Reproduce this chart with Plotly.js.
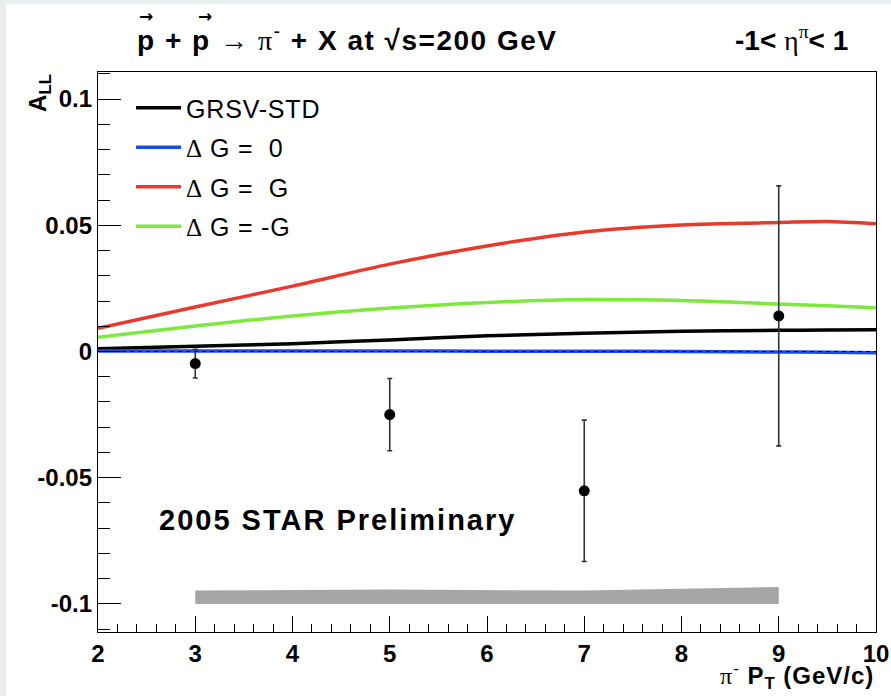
<!DOCTYPE html>
<html>
<head>
<meta charset="utf-8">
<script src="https://cdn.plot.ly/plotly-3.0.1.min.js"></script>
<style>
  html, body { margin: 0; padding: 0; background: #e8edf0; }
  #sheet { position: absolute; left: 6px; top: 4px; width: 885px; height: 692px; background: #ffffff; }
  #plot { position: absolute; left: 0; top: 0; width: 891px; height: 696px; }
</style>
</head>
<body>
<div id="sheet"></div>
<div id="plot"></div>
<script>
// Measured pi- double-helicity asymmetry (STAR 2005)
const ptBins   = [3, 5, 7, 9];
const allValue = [-0.0048, -0.0250, -0.0552, 0.0141];
const allError = [0.0057, 0.0143, 0.0280, 0.0515];

// Systematic uncertainty band, drawn along the bottom of the frame
const sysLow  = [-0.1000, -0.1000, -0.1000, -0.1000];
const sysHigh = [-0.0947, -0.0943, -0.0947, -0.0933];

// NLO predictions for different gluon polarisation scenarios
const curvePt  = [2, 3, 4, 5, 6, 7, 8, 9, 9.5, 10];
const grsvStd  = [0.0011, 0.0021, 0.0031, 0.0046, 0.0062, 0.0072, 0.0080, 0.0084, 0.0085, 0.0086];
const dgZero   = [0.0002, 0.0002, 0.0002, 0.0002, 0.0001, 0.0001, 0.0000, -0.0002, -0.0003, -0.0005];
const dgMax    = [0.0092, 0.0176, 0.0259, 0.0346, 0.0418, 0.0473, 0.0501, 0.0511, 0.0515, 0.0506];
const dgMin    = [0.0056, 0.0101, 0.0141, 0.0172, 0.0194, 0.0206, 0.0202, 0.0188, 0.0181, 0.0173];

const xTickVals = [2, 3, 4, 5, 6, 7, 8, 9, 10];
const yTickVals = [-0.1, -0.05, 0, 0.05, 0.1];
const yTickText = ['-0.1', '-0.05', '0', '0.05', '0.1'];

const SANS = 'Liberation Sans, Arial, Helvetica, sans-serif';
const SERIF = 'Liberation Serif, Times New Roman, serif';
const sym = s => `<span style="font-family:${SERIF};font-weight:normal">${s}</span>`;
const spaced = s => `<span style="letter-spacing:0.8px">${s}</span>`;

const traces = [
  {
    x: ptBins.concat(ptBins.slice().reverse()),
    y: sysLow.concat(sysHigh.slice().reverse()),
    type: 'scatter', mode: 'lines', fill: 'toself',
    fillcolor: '#a6a6a6', line: { width: 0, color: '#a6a6a6' },
    showlegend: false, hoverinfo: 'skip'
  },
  {
    x: curvePt, y: grsvStd, type: 'scatter', mode: 'lines', name: spaced('GRSV-STD'),
    legendgroup: 'a', line: { color: '#000000', width: 3.5, shape: 'spline', smoothing: 0.8 }
  },
  {
    x: curvePt, y: dgZero, type: 'scatter', mode: 'lines',
    name: sym('\u0394') + spaced(' G =\u00a0\u00a00'),
    legendgroup: 'b', line: { color: '#1a4cec', width: 3.5, shape: 'spline', smoothing: 0.8 }
  },
  {
    x: curvePt, y: dgMax, type: 'scatter', mode: 'lines',
    name: sym('\u0394') + spaced(' G =\u00a0\u00a0G'),
    legendgroup: 'c', line: { color: '#e83a2c', width: 3.5, shape: 'spline', smoothing: 0.8 }
  },
  {
    x: curvePt, y: dgMin, type: 'scatter', mode: 'lines',
    name: sym('\u0394') + spaced(' G = -G'),
    legendgroup: 'd', line: { color: '#7de83e', width: 3.5, shape: 'spline', smoothing: 0.8 }
  },
  {
    x: [xTickVals[0], xTickVals[xTickVals.length - 1]], y: [0, 0],
    type: 'scatter', mode: 'lines', showlegend: false, hoverinfo: 'skip',
    line: { color: '#000000', width: 1, dash: '4px,4px' }
  },
  {
    x: ptBins, y: allValue, type: 'scatter', mode: 'markers', showlegend: false,
    marker: { color: '#000000', size: 11 },
    error_y: { type: 'data', array: allError, visible: true, color: '#333333', thickness: 1.6, width: 2.5 }
  }
];

const layout = {
  width: 891, height: 696,
  margin: { l: 98, r: 15, t: 72, b: 64, pad: 0 },
  paper_bgcolor: 'rgba(0,0,0,0)',
  plot_bgcolor: '#ffffff',
  showlegend: true,
  legend: {
    x: 0.0425, y: 0.9766, xanchor: 'left', yanchor: 'top',
    bgcolor: 'rgba(0,0,0,0)', borderwidth: 0,
    font: { family: SANS, size: 25, color: '#000000' },
    itemwidth: 45, tracegroupgap: 4, traceorder: 'grouped'
  },
  xaxis: {
    range: [2, 10], tickmode: 'array', tickvals: xTickVals,
    ticks: 'inside', ticklen: 16, tickwidth: 1, tickcolor: '#000000',
    minor: { ticks: 'inside', ticklen: 8, tick0: 2, dtick: 0.2, tickwidth: 1, tickcolor: '#000000', showgrid: false },
    showline: true, linecolor: '#000000', linewidth: 1.2, mirror: true,
    showgrid: false, zeroline: false,
    tickfont: { family: SANS, size: 24, weight: 'bold', color: '#000000' }
  },
  yaxis: {
    range: [-0.1111, 0.1107], tickmode: 'array', tickvals: yTickVals, ticktext: yTickText,
    ticks: 'inside', ticklen: 23, tickwidth: 1, tickcolor: '#000000',
    minor: { ticks: 'inside', ticklen: 12, tick0: 0, dtick: 0.01, tickwidth: 1, tickcolor: '#000000', showgrid: false },
    showline: true, linecolor: '#000000', linewidth: 1.2, mirror: true,
    showgrid: false, zeroline: false,
    tickfont: { family: SANS, size: 24, weight: 'bold', color: '#000000' }
  },
  annotations: [
    {
      xref: 'paper', yref: 'paper', x: 0.0476, y: 1.0607, xanchor: 'left', yanchor: 'middle',
      showarrow: false, font: { family: SANS, size: 28, color: '#000000' },
      text: '<span style="letter-spacing:1.5px"><b>p + p</b> ' + sym('\u2192 \u03c0') + '<sup>-</sup><b> + X at \u221as=200 GeV</b></span>'
    },
    {
      xref: 'paper', yref: 'paper', x: 0.0617, y: 1.1, xanchor: 'center', yanchor: 'middle',
      showarrow: false, font: { family: 'DejaVu Sans, sans-serif', size: 17, weight: 'bold', color: '#000000' }, text: '\u2192'
    },
    {
      xref: 'paper', yref: 'paper', x: 0.138, y: 1.1, xanchor: 'center', yanchor: 'middle',
      showarrow: false, font: { family: 'DejaVu Sans, sans-serif', size: 17, weight: 'bold', color: '#000000' }, text: '\u2192'
    },
    {
      xref: 'paper', yref: 'paper', x: 0.9666, y: 1.0607, xanchor: 'right', yanchor: 'middle',
      showarrow: false, font: { family: SANS, size: 28, color: '#000000' },
      text: '<b>-1< </b>' + sym('\u03b7') + '<sup>' + sym('\u03c0') + '</sup><b>< 1</b>'
    },
    {
      xref: 'paper', yref: 'paper', x: -0.0746, y: 0.9625, xanchor: 'center', yanchor: 'middle',
      textangle: -90, showarrow: false, font: { family: SANS, size: 24, color: '#000000' },
      text: '<b>A<sub>LL</sub></b>'
    },
    {
      xref: 'paper', yref: 'paper', x: 1, y: -0.079, xanchor: 'right', yanchor: 'middle',
      showarrow: false, font: { family: SANS, size: 24, color: '#000000' },
      text: '<span style="letter-spacing:1px">' + sym('\u03c0') + '<sup>-</sup> <b>P<sub>T</sub> (GeV/c)</b></span>'
    },
    {
      xref: 'paper', yref: 'paper', x: 0.0758, y: 0.2, xanchor: 'left', yanchor: 'middle',
      showarrow: false, font: { family: SANS, size: 29, color: '#000000' },
      text: '<span style="letter-spacing:2px"><b>2005 STAR Preliminary</b></span>'
    }
  ]
};

Plotly.newPlot('plot', traces, layout, { displayModeBar: false, staticPlot: true });
</script>
</body>
</html>
